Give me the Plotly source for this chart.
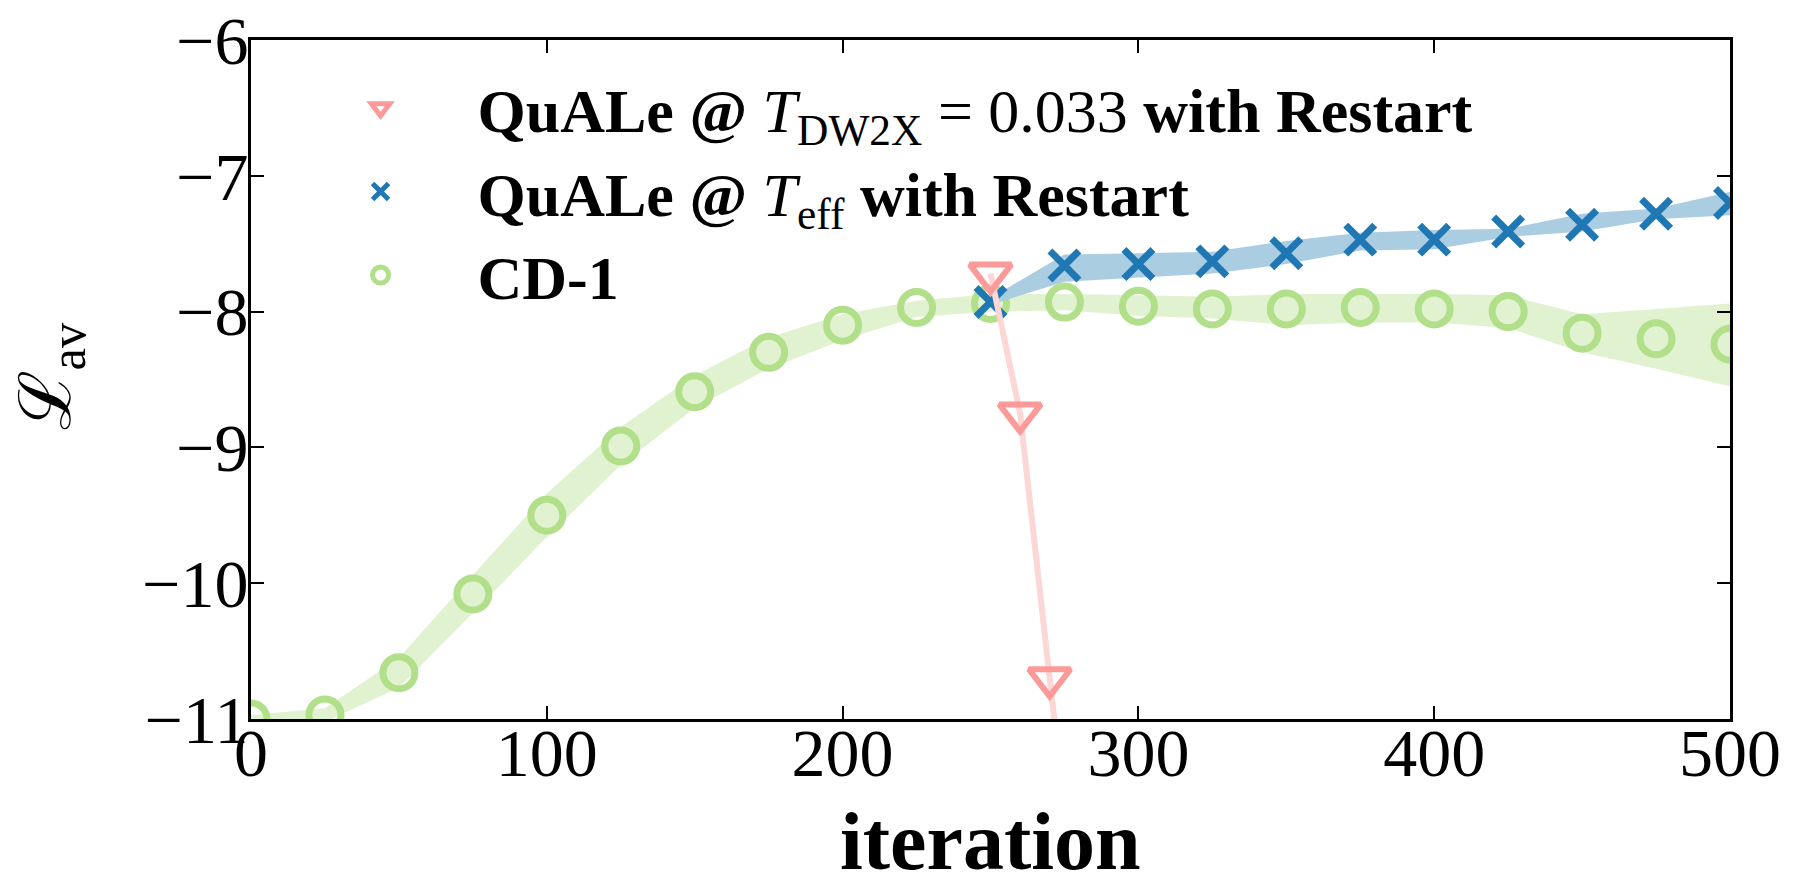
import plotly.graph_objects as go

# ---------------- data ----------------
cd_iter = [0, 25, 50, 75, 100, 125, 150, 175, 200, 225, 250, 275, 300, 325, 350, 375, 400, 425, 450, 475, 500]
cd_mean = [-11.00, -10.97, -10.66, -10.08, -9.50, -8.99, -8.59, -8.30, -8.10, -7.97, -7.94, -7.93, -7.96, -7.98, -7.98, -7.97, -7.98, -8.00, -8.16, -8.20, -8.24]
cd_upper = [-10.97, -10.92, -10.55, -9.94, -9.34, -8.85, -8.47, -8.19, -8.02, -7.92, -7.87, -7.87, -7.88, -7.89, -7.87, -7.87, -7.87, -7.88, -8.02, -7.98, -7.94]
cd_lower = [-11.03, -11.02, -10.77, -10.22, -9.66, -9.13, -8.71, -8.42, -8.21, -8.04, -8.00, -7.99, -8.03, -8.05, -8.10, -8.08, -8.08, -8.12, -8.30, -8.42, -8.55]

teff_iter = [250, 275, 300, 325, 350, 375, 400, 425, 450, 475, 500]
teff_mean = [-7.93, -7.66, -7.65, -7.63, -7.57, -7.47, -7.47, -7.41, -7.36, -7.28, -7.20]
teff_upper = [-7.90, -7.58, -7.57, -7.56, -7.48, -7.42, -7.40, -7.39, -7.28, -7.24, -7.12]
teff_lower = [-7.95, -7.78, -7.75, -7.72, -7.65, -7.55, -7.54, -7.45, -7.41, -7.32, -7.29]

dw_iter = [250, 260, 270, 280]
dw_mean = [-7.72, -8.75, -10.70, -12.60]

x_ticks = [0, 100, 200, 300, 400, 500]
y_ticks = [-11, -10, -9, -8, -7, -6]

label_dw = "<b>QuALe @ </b><i>T</i><sub>DW2X</sub> = 0.033 <b>with Restart</b>"
label_teff = "<b>QuALe @ </b><i>T</i><sub>eff</sub> <b>with Restart</b>"
label_cd = "<b>CD-1</b>"
x_title = "<b>iteration</b>"
y_title = "ℒ<sub>av</sub>"

# ---------------- style ----------------
GREEN = "#b2df8a"
GREEN_FILL = "#e0f2d0"
BLUE = "#1f78b4"
BLUE_FILL = "#a6cae0"
RED = "#fb9a99"
RED_LINE = "#fdd6d6"
FONT = "Liberation Serif, DejaVu Serif, serif"

fig = go.Figure()

# CD-1 band + markers
fig.add_trace(go.Scatter(
    x=cd_iter + cd_iter[::-1], y=cd_upper + cd_lower[::-1],
    fill="toself", fillcolor=GREEN_FILL, line=dict(width=0),
    mode="lines", showlegend=False, hoverinfo="skip"))
fig.add_trace(go.Scatter(
    x=cd_iter, y=cd_mean, mode="markers", name=label_cd, legendrank=3,
    marker=dict(symbol="circle-open", size=32, color=GREEN, line=dict(width=7, color=GREEN))))

# T_eff band + markers
fig.add_trace(go.Scatter(
    x=teff_iter + teff_iter[::-1], y=teff_upper + teff_lower[::-1],
    fill="toself", fillcolor=BLUE_FILL, opacity=0.95, line=dict(width=0),
    mode="lines", showlegend=False, hoverinfo="skip"))
fig.add_trace(go.Scatter(
    x=teff_iter, y=teff_mean, mode="markers", name=label_teff, legendrank=2,
    marker=dict(symbol="x-thin-open", size=29, color=BLUE, line=dict(width=7, color=BLUE))))

# DW2X line + markers
fig.add_trace(go.Scatter(
    x=dw_iter, y=dw_mean, mode="lines", line=dict(color=RED_LINE, width=6),
    showlegend=False, hoverinfo="skip"))
fig.add_trace(go.Scatter(
    x=dw_iter, y=dw_mean, mode="markers", name=label_dw, legendrank=1,
    marker=dict(symbol="triangle-down-open", size=36, color=RED, line=dict(width=6, color=RED))))

axis_common = dict(
    showline=True, linecolor="black", linewidth=3, mirror="ticks",
    ticks="inside", ticklen=13, tickwidth=1.5, tickcolor="black",
    showgrid=False, zeroline=False, automargin=False,
    ticklabeloverflow="allow",
    tickfont=dict(family=FONT, size=68, color="black"),
)

fig.update_layout(
    width=1780, height=864,
    margin=dict(l=243, r=58, t=32, b=153, autoexpand=False),
    paper_bgcolor="white", plot_bgcolor="white",
    font=dict(family=FONT, color="black"),
    xaxis=dict(range=[0, 500], tickvals=x_ticks, ticklabelstandoff=-28, **axis_common),
    yaxis=dict(range=[-11, -6], tickvals=y_ticks, ticklabelstandoff=-14, **axis_common),
    legend=dict(x=0.022, y=0.969, xanchor="left", yanchor="top",
                bgcolor="rgba(0,0,0,0)", borderwidth=0,
                font=dict(family=FONT, size=62, color="black"),
                itemwidth=184, tracegroupgap=0),
    showlegend=True,
    annotations=[
        dict(text=x_title, xref="paper", yref="paper", x=0.5, y=-0.181,
             xanchor="center", yanchor="middle", showarrow=False,
             font=dict(family=FONT, size=82, color="black")),
        dict(text=y_title, xref="paper", yref="paper", x=-0.135, y=0.505,
             xanchor="center", yanchor="middle", showarrow=False, textangle=-90,
             font=dict(family=FONT, size=72, color="black")),
    ],
)

fig.write_html("out.html")
